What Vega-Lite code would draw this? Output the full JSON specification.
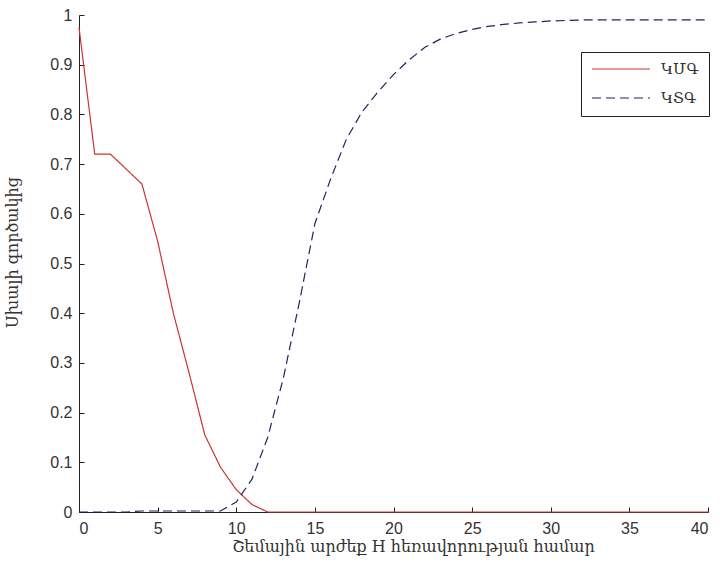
{
  "$schema": "https://vega.github.io/schema/vega-lite/v6.json",
  "width": 629,
  "height": 497,
  "autosize": {"type": "none"},
  "padding": {"left": 79, "top": 15, "right": 12, "bottom": 52},
  "background": "white",
  "config": {
    "view": {"stroke": null},
    "axis": {
      "grid": false,
      "domainColor": "#222",
      "domainWidth": 1,
      "tickColor": "#222",
      "tickSize": -5,
      "labelFont": "Liberation Sans",
      "labelFontSize": 16,
      "labelColor": "#333",
      "titleFont": "DejaVu Serif",
      "titleFontSize": 16,
      "titleFontWeight": "normal",
      "titleColor": "#333"
    }
  },
  "data": {
    "values": [
      {"x": 0, "y": 0.975, "series": "ԿՄԳ"},
      {"x": 1, "y": 0.72, "series": "ԿՄԳ"},
      {"x": 2, "y": 0.72, "series": "ԿՄԳ"},
      {"x": 3, "y": 0.69, "series": "ԿՄԳ"},
      {"x": 4, "y": 0.66, "series": "ԿՄԳ"},
      {"x": 5, "y": 0.545, "series": "ԿՄԳ"},
      {"x": 6, "y": 0.40, "series": "ԿՄԳ"},
      {"x": 7, "y": 0.28, "series": "ԿՄԳ"},
      {"x": 8, "y": 0.155, "series": "ԿՄԳ"},
      {"x": 9, "y": 0.09, "series": "ԿՄԳ"},
      {"x": 10, "y": 0.045, "series": "ԿՄԳ"},
      {"x": 11, "y": 0.015, "series": "ԿՄԳ"},
      {"x": 12, "y": 0, "series": "ԿՄԳ"},
      {"x": 15, "y": 0, "series": "ԿՄԳ"},
      {"x": 20, "y": 0, "series": "ԿՄԳ"},
      {"x": 25, "y": 0, "series": "ԿՄԳ"},
      {"x": 30, "y": 0, "series": "ԿՄԳ"},
      {"x": 35, "y": 0, "series": "ԿՄԳ"},
      {"x": 40, "y": 0, "series": "ԿՄԳ"},
      {"x": 0, "y": 0, "series": "ԿՏԳ"},
      {"x": 3, "y": 0, "series": "ԿՏԳ"},
      {"x": 4, "y": 0.002, "series": "ԿՏԳ"},
      {"x": 9, "y": 0.002, "series": "ԿՏԳ"},
      {"x": 10, "y": 0.02, "series": "ԿՏԳ"},
      {"x": 11, "y": 0.066, "series": "ԿՏԳ"},
      {"x": 12, "y": 0.15, "series": "ԿՏԳ"},
      {"x": 13, "y": 0.27, "series": "ԿՏԳ"},
      {"x": 14, "y": 0.42, "series": "ԿՏԳ"},
      {"x": 15, "y": 0.58, "series": "ԿՏԳ"},
      {"x": 16, "y": 0.67, "series": "ԿՏԳ"},
      {"x": 17, "y": 0.75, "series": "ԿՏԳ"},
      {"x": 18, "y": 0.805, "series": "ԿՏԳ"},
      {"x": 19, "y": 0.845, "series": "ԿՏԳ"},
      {"x": 20, "y": 0.88, "series": "ԿՏԳ"},
      {"x": 21, "y": 0.91, "series": "ԿՏԳ"},
      {"x": 22, "y": 0.935, "series": "ԿՏԳ"},
      {"x": 23, "y": 0.952, "series": "ԿՏԳ"},
      {"x": 24, "y": 0.963, "series": "ԿՏԳ"},
      {"x": 25, "y": 0.971, "series": "ԿՏԳ"},
      {"x": 26, "y": 0.977, "series": "ԿՏԳ"},
      {"x": 27, "y": 0.981, "series": "ԿՏԳ"},
      {"x": 28, "y": 0.984, "series": "ԿՏԳ"},
      {"x": 29, "y": 0.986, "series": "ԿՏԳ"},
      {"x": 30, "y": 0.988, "series": "ԿՏԳ"},
      {"x": 32, "y": 0.99, "series": "ԿՏԳ"},
      {"x": 35, "y": 0.99, "series": "ԿՏԳ"},
      {"x": 40, "y": 0.99, "series": "ԿՏԳ"}
    ]
  },
  "mark": {"type": "line", "strokeWidth": 1.2, "clip": false},
  "encoding": {
    "x": {
      "field": "x", "type": "quantitative",
      "scale": {"domain": [0, 40], "nice": false},
      "axis": {
        "values": [0, 5, 10, 15, 20, 25, 30, 35, 40],
        "title": "Շեմային արժեք H հեռավորության համար",
        "labelPadding": 13,
        "titleX": 334,
        "titleY": 26
      }
    },
    "y": {
      "field": "y", "type": "quantitative",
      "scale": {"domain": [0, 1], "nice": false},
      "axis": {
        "values": [0, 0.1, 0.2, 0.3, 0.4, 0.5, 0.6, 0.7, 0.8, 0.9, 1],
        "format": ".1~f",
        "title": "Սխալի գործակից",
        "labelPadding": 12,
        "titleX": -59,
        "titleY": 237
      }
    },
    "color": {
      "field": "series", "type": "nominal",
      "scale": {"domain": ["ԿՄԳ", "ԿՏԳ"], "range": ["#cc3333", "#23235e"]},
      "legend": {
        "title": null,
        "orient": "none",
        "legendX": 502,
        "legendY": 37,
        "strokeColor": "#222",
        "fillColor": "white",
        "padding": 10,
        "symbolType": "stroke",
        "symbolSize": 3364,
        "symbolStrokeWidth": 1.2,
        "clipHeight": 14,
        "rowPadding": 14,
        "labelOffset": 10,
        "labelFont": "DejaVu Serif",
        "labelFontSize": 15,
        "labelColor": "#333"
      }
    },
    "strokeDash": {
      "field": "series", "type": "nominal",
      "scale": {"domain": ["ԿՄԳ", "ԿՏԳ"], "range": [[1, 0], [9, 5]]},
      "legend": null
    }
  }
}
